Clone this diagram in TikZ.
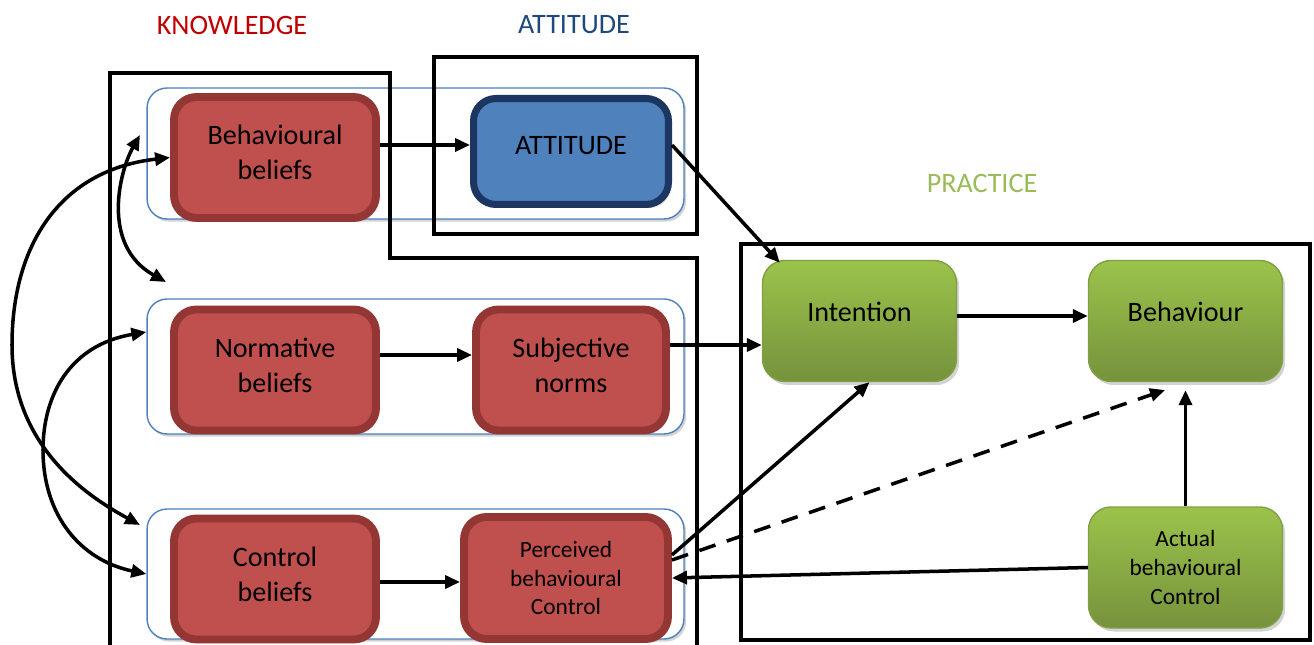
\documentclass[tikz,border=0pt]{standalone}
\usepackage{fontspec}
\setmainfont{Carlito}
\usetikzlibrary{arrows.meta,calc,shadows}

\definecolor{redfill}{HTML}{C0504D}
\definecolor{redline}{HTML}{943634}
\definecolor{bluefill}{HTML}{4F81BD}
\definecolor{blueline}{HTML}{1C3661}
\definecolor{greentop}{HTML}{9BC34B}
\definecolor{greenbot}{HTML}{76923C}
\definecolor{greenline}{HTML}{7F9F46}
\definecolor{knowred}{HTML}{C00000}
\definecolor{attblue}{HTML}{1F497D}
\definecolor{pracgreen}{HTML}{9BBB59}

\begin{document}
\begin{tikzpicture}[
  x=0.02cm, y=0.02cm,
  >={Triangle[length=0.3cm,width=0.26cm]},
  lbl/.style={font=\fontsize{16}{20}\selectfont},
  box/.style={rounded corners=0.45cm, align=center, inner sep=2pt},
  grp/.style={draw=bluefill, line width=0.8pt, rounded corners=0.4cm, fill=white,
    minimum width=10.74cm, drop shadow={shadow xshift=1.2pt,shadow yshift=-1.5pt,opacity=0.35}},
  redbox/.style={box, draw=redline, fill=redfill, line width=4.5pt, text depth=0.2cm,
    minimum width=4.04cm, minimum height=2.42cm, font=\fontsize{16}{20}\selectfont,
    drop shadow={shadow xshift=1.5pt,shadow yshift=-2pt,opacity=0.4}},
  attbox/.style={box, draw=blueline, fill=bluefill, line width=4pt, text depth=0.26cm,
    minimum width=3.9cm, minimum height=2.12cm, font=\fontsize{16}{20}\selectfont,
    drop shadow={shadow xshift=1.5pt,shadow yshift=-2pt,opacity=0.4}},
  grnbox/.style={box, draw=greenline, line width=0.8pt, top color=greentop, bottom color=greenbot,
    minimum width=3.88cm, minimum height=2.42cm, font=\fontsize{16}{20}\selectfont,
    drop shadow={shadow xshift=1.5pt,shadow yshift=-2pt,opacity=0.35}},
  small/.style={font=\fontsize{13.3}{16.3}\selectfont},
  frame/.style={draw, line width=2.3pt},
  arr/.style={->, line width=2pt},
  dbl/.style={<->, line width=2pt}
]
\useasboundingbox (0,0) rectangle (1314,645);

% headings
\node[lbl, text=knowred] (hk) at (232,620) {KNOWLEDGE};
\node[lbl, text=attblue] (ha) at (574,620) {ATTITUDE};
\node[lbl, text=pracgreen] (hp) at (982,462) {PRACTICE};

% rows
\node[grp, minimum height=2.62cm] (g1) at (415.5,491.5) {};
\node[grp, minimum height=2.7cm] (g2) at (415.5,278.5) {};
\node[grp, minimum height=2.6cm] (g3) at (415.5,71) {};

% black frames
\draw[frame] (697,-10) -- (697,387) -- (390,387) -- (390,572) -- (110,572) -- (110,-10);
\draw[frame] (434,411) rectangle (697,588);
\draw[frame] (741,5) rectangle (1310,401);

% boxes
\node[redbox] (bb) at (275,487.5) {Behavioural\\beliefs};
\node[attbox] (att) at (571,493.5) {ATTITUDE};
\node[redbox] (nb) at (275,275) {Normative\\beliefs};
\node[redbox, minimum width=3.8cm] (sn) at (571,275) {Subjective\\norms};
\node[redbox] (cb) at (275,66) {Control\\beliefs};
\node[redbox, small, text depth=0pt, minimum width=4.08cm, minimum height=2.44cm] (pbc) at (566,67) {Perceived\\behavioural\\Control};

\node[grnbox, text depth=0.36cm] (int) at (859.5,324) {Intention};
\node[grnbox, text depth=0.36cm] (beh) at (1185.5,324) {Behaviour};
\node[grnbox, small] (abc) at (1185.5,77.5) {Actual\\behavioural\\Control};

\coordinate (ca1) at (140,510);
\coordinate (ca2) at (166,363);
\coordinate (cb2) at (140,120);
\coordinate (dend) at (1165,255);

% connectors
\draw[arr] (bb.east |- 0,500) -- (att.west |- 0,500);
\draw[arr] (att.east |- 0,500) -- ([xshift=0.36cm,yshift=-0.06cm]int.north west);
\draw[arr] (nb.east |- 0,290) -- (sn.west |- 0,290);
\draw[arr] (sn.east |- 0,300) -- (int.west |- 0,300);
\draw[arr] (cb.east |- 0,63) -- (pbc.west |- 0,63);
\draw[arr] (int.east |- 0,329) -- (beh.west |- 0,329);
\draw[arr] (pbc.east |- 0,90) -- ([xshift=0.2cm]int.south);
\draw[arr, dash pattern=on 0.34cm off 0.24cm] (pbc.east |- 0,85) -- (dend);
\draw[arr] (abc.west) -- (pbc.east);
\draw[arr] (abc.north) -- ([yshift=-0.16cm]beh.south);

% curved links on the left
\draw[dbl] (ca1) .. controls (120,475) and (100,400) .. (ca2);
\draw[dbl] (bb.west) .. controls (60,475) and (12,400) .. (12,300)
  .. controls (12,200) and (85,150) .. (cb2);
\draw[dbl] (g2.west |- 0,313) .. controls (70,300) and (43,250) .. (43,195)
  .. controls (43,130) and (80,85) .. (g3.west);
\end{tikzpicture}
\end{document}
